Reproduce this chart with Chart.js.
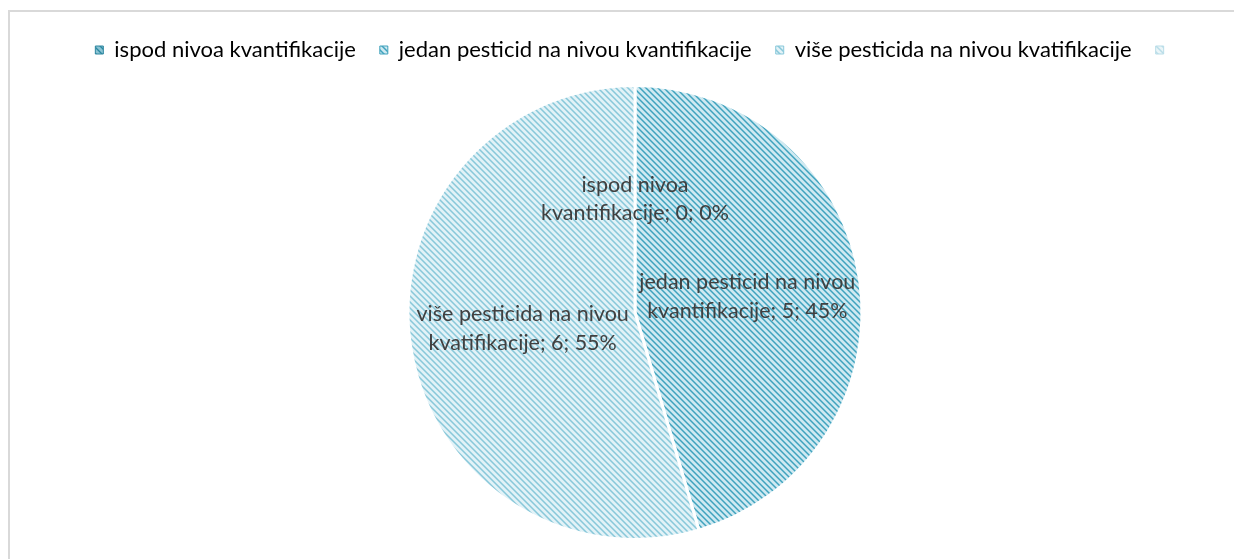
<!DOCTYPE html>
<html>
<head>
<meta charset="utf-8">
<script src="https://cdn.jsdelivr.net/npm/chart.js@4.4.1/dist/chart.umd.min.js"></script>
<style>
html,body{margin:0;padding:0;background:#fff;}
#wrap{width:1234px;height:559px;position:relative;}
</style>
</head>
<body>
<div id="wrap"><canvas id="c" width="1234" height="559"></canvas></div>
<script>
const categories = ["ispod nivoa kvantifikacije", "jedan pesticid na nivou kvantifikacije", "više pesticida na nivou kvatifikacije", ""];
const values = [0, 5, 6, null];
const patternColors = [
  {dark:"#2e869f", mid:"#5aa9be", light:"#8cc3d3"},
  {dark:"#40a2bd", mid:"#80c3d6", light:"#cfe9f1"},
  {dark:"#88c8da", mid:"#b0dae6", light:"#e2f2f7"},
  {dark:"#b9dde8", mid:"#d0e8ef", light:"#eaf5f8"}
];

function makePattern(c){
  const p = 6;
  const cv = document.createElement('canvas');
  cv.width = p; cv.height = p;
  const g = cv.getContext('2d');
  for(let y=0;y<p;y++){
    for(let x=0;x<p;x++){
      const d = ((x - y) % p + p) % p;
      g.fillStyle = d===0 ? c.dark : (d===1 || d===5 ? c.mid : c.light);
      g.fillRect(x,y,1,1);
    }
  }
  return g.createPattern(cv,'repeat');
}
const patterns = patternColors.map(makePattern);

const FONT = "Lato, 'Liberation Sans', sans-serif";

const frame = {
  id:'frame',
  beforeInit(chart){
    const lg = chart.legend;
    if(lg){
      const orig = lg.fit.bind(lg);
      lg.fit = function(){ orig(); this.height += 13; };
    }
  },
  beforeDraw(chart){
    const ctx = chart.ctx;
    ctx.save();
    ctx.fillStyle = '#fff';
    ctx.fillRect(0,0,chart.width,chart.height);
    ctx.strokeStyle = '#d9d9d9';
    ctx.lineWidth = 2;
    ctx.strokeRect(9, 11, chart.width + 10, chart.height + 10);
    ctx.restore();
  }
};

function wrapText(ctx, text, maxW){
  const words = text.split(' ');
  const lines = [];
  let cur = '';
  for(const w of words){
    const t = cur ? cur + ' ' + w : w;
    if(cur && ctx.measureText(t).width > maxW){ lines.push(cur); cur = w; }
    else cur = t;
  }
  if(cur) lines.push(cur);
  return lines;
}

const dataLabels = {
  id:'dataLabels',
  afterDatasetsDraw(chart){
    const ctx = chart.ctx;
    const meta = chart.getDatasetMeta(0);
    const ds = chart.data.datasets[0].data;
    const total = ds.reduce((a,b)=>a+(b||0),0);
    ctx.save();
    ctx.font = "21.5px " + FONT;
    ctx.fillStyle = '#404040';
    ctx.textAlign = 'center';
    ctx.textBaseline = 'middle';
    meta.data.forEach((arc,i)=>{
      const cat = chart.data.labels[i];
      if(!cat || ds[i]===null) return;
      const {x,y,startAngle,endAngle,outerRadius} = arc.getProps(['x','y','startAngle','endAngle','outerRadius'], true);
      const mid = (startAngle+endAngle)/2;
      const px = x + Math.cos(mid)*outerRadius*0.5;
      const py = y + Math.sin(mid)*outerRadius*0.5;
      const pct = Math.round(ds[i]/total*100);
      const lines = wrapText(ctx, cat + '; ' + ds[i] + '; ' + pct + '%', 240);
      const lh = 28.5;
      lines.forEach((l,k)=>{
        ctx.fillText(l, px, py + (k - (lines.length-1)/2)*lh);
      });
    });
    ctx.restore();
  }
};

new Chart(document.getElementById('c'), {
  type:'pie',
  data:{
    labels: categories,
    datasets:[{
      data: values,
      backgroundColor: patterns,
      borderColor:'#ffffff',
      borderWidth:3
    }]
  },
  options:{
    responsive:false,
    animation:false,
    events:[],
    layout:{padding:{top:15,bottom:18,left:36,right:0}},
    plugins:{
      tooltip:{enabled:false},
      legend:{
        position:'top',
        labels:{
          font:{family:FONT,size:22},
          color:'#595959',
          boxWidth:8,
          boxHeight:8,
          padding:24,
          generateLabels(chart){
            return chart.data.labels.map((l,i)=>({
              text:l,
              fillStyle: patterns[i],
              strokeStyle: patternColors[i].dark,
              lineWidth:1,
              hidden:false,
              index:i
            }));
          }
        }
      }
    }
  },
  plugins:[frame, dataLabels]
});
</script>
</body>
</html>
